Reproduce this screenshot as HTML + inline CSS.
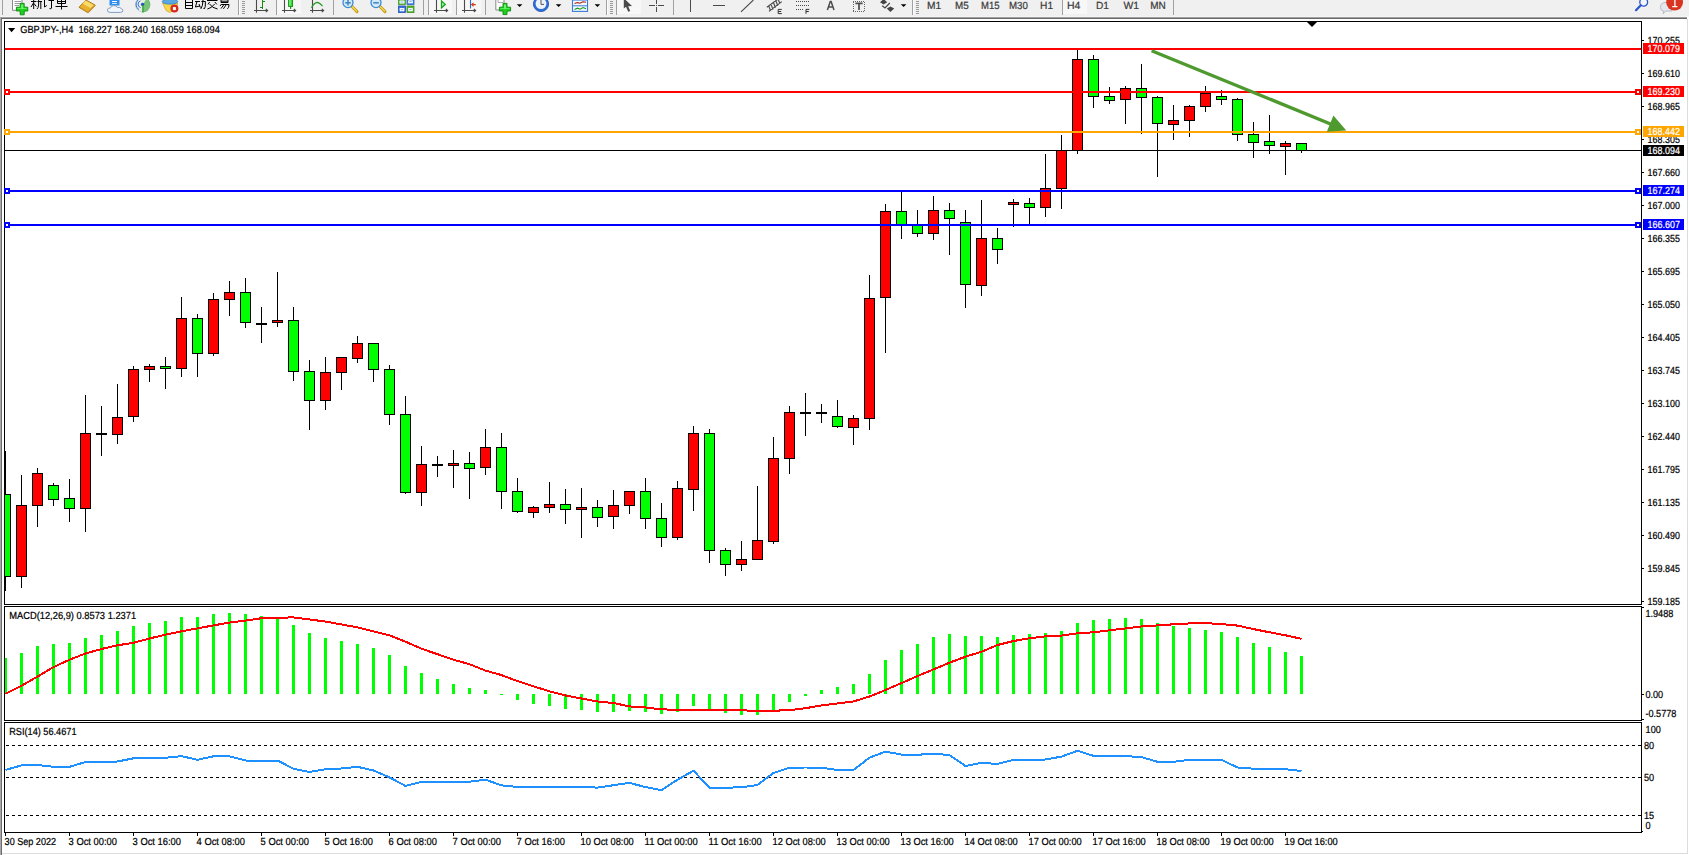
<!DOCTYPE html>
<html><head><meta charset="utf-8"><title>GBPJPY H4</title>
<style>
html,body{margin:0;padding:0;background:#fff;}
body{width:1689px;height:855px;overflow:hidden;position:relative;font-family:"Liberation Sans",sans-serif;}
svg{position:absolute;left:0;top:0;display:block;}
text{font-family:"Liberation Sans",sans-serif;text-rendering:geometricPrecision;}
.ax{font-size:9.2px;fill:#000;}
.axw{font-size:9.2px;fill:#fff;}
.tb{font-size:10.2px;fill:#3a3a3a;}
</style></head><body>
<svg width="1689" height="855" viewBox="0 0 1689 855">
<rect x="0" y="0" width="1689" height="855" fill="#fff"/>
<g shape-rendering="crispEdges">
<rect x="0" y="0" width="1689" height="17" fill="#f0f0f0"/>
<rect x="0" y="16" width="1689" height="1" fill="#f5f5f5"/>
<rect x="0" y="17" width="1687" height="1" fill="#a0a0a0"/>
<rect x="0" y="18" width="1687" height="1" fill="#696969"/>
<rect x="0" y="17" width="1" height="838" fill="#a8a8a8"/>
<rect x="1" y="18" width="1" height="837" fill="#6c6c6c"/>
<rect x="1687" y="19" width="1" height="835" fill="#dcdcdc"/>
<rect x="2" y="853" width="1686" height="1" fill="#dcdcdc"/>
<rect x="4" y="21" width="1638" height="1" fill="#000"/>
<rect x="4" y="604" width="1638" height="1" fill="#000"/>
<rect x="4" y="21" width="1" height="584" fill="#000"/>
<rect x="1641" y="21" width="1" height="584" fill="#000"/>
<rect x="4" y="606" width="1638" height="1" fill="#000"/>
<rect x="4" y="720" width="1638" height="1" fill="#000"/>
<rect x="4" y="606" width="1" height="115" fill="#000"/>
<rect x="1641" y="606" width="1" height="115" fill="#000"/>
<rect x="4" y="722" width="1638" height="1" fill="#000"/>
<rect x="4" y="832" width="1638" height="1" fill="#000"/>
<rect x="4" y="722" width="1" height="111" fill="#000"/>
<rect x="1641" y="722" width="1" height="111" fill="#000"/>
</g>
<g shape-rendering="crispEdges">
<rect x="5" y="48" width="1636" height="2" fill="#ff0000"/>
<rect x="5" y="91" width="1636" height="2" fill="#ff0000"/>
<rect x="5" y="131" width="1636" height="2" fill="#ffa500"/>
<rect x="5" y="150" width="1636" height="1" fill="#000000"/>
<rect x="5" y="190" width="1636" height="2" fill="#0000ff"/>
<rect x="5" y="224" width="1636" height="2" fill="#0000ff"/>
<rect x="5" y="451" width="1" height="140" fill="#000"/>
<rect x="5" y="494" width="6" height="83" fill="#000"/>
<rect x="5" y="495" width="5" height="81" fill="#00ff00"/>
<rect x="21" y="475" width="1" height="113" fill="#000"/>
<rect x="16" y="505" width="11" height="72" fill="#000"/>
<rect x="17" y="506" width="9" height="70" fill="#ff0000"/>
<rect x="37" y="468" width="1" height="59" fill="#000"/>
<rect x="32" y="473" width="11" height="33" fill="#000"/>
<rect x="33" y="474" width="9" height="31" fill="#ff0000"/>
<rect x="53" y="483" width="1" height="23" fill="#000"/>
<rect x="48" y="485" width="11" height="15" fill="#000"/>
<rect x="49" y="486" width="9" height="13" fill="#00ff00"/>
<rect x="69" y="479" width="1" height="43" fill="#000"/>
<rect x="64" y="498" width="11" height="11" fill="#000"/>
<rect x="65" y="499" width="9" height="9" fill="#00ff00"/>
<rect x="85" y="395" width="1" height="137" fill="#000"/>
<rect x="80" y="433" width="11" height="76" fill="#000"/>
<rect x="81" y="434" width="9" height="74" fill="#ff0000"/>
<rect x="101" y="406" width="1" height="50" fill="#000"/>
<rect x="96" y="433" width="11" height="2" fill="#000"/>
<rect x="117" y="384" width="1" height="60" fill="#000"/>
<rect x="112" y="417" width="11" height="18" fill="#000"/>
<rect x="113" y="418" width="9" height="16" fill="#ff0000"/>
<rect x="133" y="366" width="1" height="56" fill="#000"/>
<rect x="128" y="369" width="11" height="48" fill="#000"/>
<rect x="129" y="370" width="9" height="46" fill="#ff0000"/>
<rect x="149" y="364" width="1" height="18" fill="#000"/>
<rect x="144" y="366" width="11" height="4" fill="#000"/>
<rect x="145" y="367" width="9" height="2" fill="#ff0000"/>
<rect x="165" y="357" width="1" height="32" fill="#000"/>
<rect x="160" y="366" width="11" height="3" fill="#000"/>
<rect x="161" y="367" width="9" height="1" fill="#00ff00"/>
<rect x="181" y="297" width="1" height="80" fill="#000"/>
<rect x="176" y="318" width="11" height="51" fill="#000"/>
<rect x="177" y="319" width="9" height="49" fill="#ff0000"/>
<rect x="197" y="314" width="1" height="63" fill="#000"/>
<rect x="192" y="318" width="11" height="36" fill="#000"/>
<rect x="193" y="319" width="9" height="34" fill="#00ff00"/>
<rect x="213" y="293" width="1" height="63" fill="#000"/>
<rect x="208" y="299" width="11" height="55" fill="#000"/>
<rect x="209" y="300" width="9" height="53" fill="#ff0000"/>
<rect x="229" y="281" width="1" height="35" fill="#000"/>
<rect x="224" y="292" width="11" height="8" fill="#000"/>
<rect x="225" y="293" width="9" height="6" fill="#ff0000"/>
<rect x="245" y="278" width="1" height="50" fill="#000"/>
<rect x="240" y="292" width="11" height="31" fill="#000"/>
<rect x="241" y="293" width="9" height="29" fill="#00ff00"/>
<rect x="261" y="307" width="1" height="36" fill="#000"/>
<rect x="256" y="323" width="11" height="2" fill="#000"/>
<rect x="277" y="272" width="1" height="55" fill="#000"/>
<rect x="272" y="320" width="11" height="3" fill="#000"/>
<rect x="273" y="321" width="9" height="1" fill="#ff0000"/>
<rect x="293" y="307" width="1" height="74" fill="#000"/>
<rect x="288" y="320" width="11" height="52" fill="#000"/>
<rect x="289" y="321" width="9" height="50" fill="#00ff00"/>
<rect x="309" y="360" width="1" height="70" fill="#000"/>
<rect x="304" y="371" width="11" height="30" fill="#000"/>
<rect x="305" y="372" width="9" height="28" fill="#00ff00"/>
<rect x="325" y="357" width="1" height="53" fill="#000"/>
<rect x="320" y="372" width="11" height="29" fill="#000"/>
<rect x="321" y="373" width="9" height="27" fill="#ff0000"/>
<rect x="341" y="357" width="1" height="33" fill="#000"/>
<rect x="336" y="357" width="11" height="16" fill="#000"/>
<rect x="337" y="358" width="9" height="14" fill="#ff0000"/>
<rect x="357" y="336" width="1" height="27" fill="#000"/>
<rect x="352" y="343" width="11" height="16" fill="#000"/>
<rect x="353" y="344" width="9" height="14" fill="#ff0000"/>
<rect x="373" y="343" width="1" height="39" fill="#000"/>
<rect x="368" y="343" width="11" height="27" fill="#000"/>
<rect x="369" y="344" width="9" height="25" fill="#00ff00"/>
<rect x="389" y="365" width="1" height="60" fill="#000"/>
<rect x="384" y="369" width="11" height="46" fill="#000"/>
<rect x="385" y="370" width="9" height="44" fill="#00ff00"/>
<rect x="405" y="396" width="1" height="98" fill="#000"/>
<rect x="400" y="414" width="11" height="79" fill="#000"/>
<rect x="401" y="415" width="9" height="77" fill="#00ff00"/>
<rect x="421" y="446" width="1" height="60" fill="#000"/>
<rect x="416" y="464" width="11" height="29" fill="#000"/>
<rect x="417" y="465" width="9" height="27" fill="#ff0000"/>
<rect x="437" y="456" width="1" height="21" fill="#000"/>
<rect x="432" y="464" width="11" height="2" fill="#000"/>
<rect x="453" y="450" width="1" height="38" fill="#000"/>
<rect x="448" y="463" width="11" height="3" fill="#000"/>
<rect x="449" y="464" width="9" height="1" fill="#ff0000"/>
<rect x="469" y="452" width="1" height="47" fill="#000"/>
<rect x="464" y="463" width="11" height="6" fill="#000"/>
<rect x="465" y="464" width="9" height="4" fill="#00ff00"/>
<rect x="485" y="429" width="1" height="46" fill="#000"/>
<rect x="480" y="447" width="11" height="21" fill="#000"/>
<rect x="481" y="448" width="9" height="19" fill="#ff0000"/>
<rect x="501" y="433" width="1" height="76" fill="#000"/>
<rect x="496" y="447" width="11" height="45" fill="#000"/>
<rect x="497" y="448" width="9" height="43" fill="#00ff00"/>
<rect x="517" y="478" width="1" height="35" fill="#000"/>
<rect x="512" y="491" width="11" height="21" fill="#000"/>
<rect x="513" y="492" width="9" height="19" fill="#00ff00"/>
<rect x="533" y="506" width="1" height="12" fill="#000"/>
<rect x="528" y="507" width="11" height="6" fill="#000"/>
<rect x="529" y="508" width="9" height="4" fill="#ff0000"/>
<rect x="549" y="482" width="1" height="31" fill="#000"/>
<rect x="544" y="504" width="11" height="4" fill="#000"/>
<rect x="545" y="505" width="9" height="2" fill="#ff0000"/>
<rect x="565" y="489" width="1" height="35" fill="#000"/>
<rect x="560" y="504" width="11" height="6" fill="#000"/>
<rect x="561" y="505" width="9" height="4" fill="#00ff00"/>
<rect x="581" y="488" width="1" height="50" fill="#000"/>
<rect x="576" y="507" width="11" height="3" fill="#000"/>
<rect x="577" y="508" width="9" height="1" fill="#ff0000"/>
<rect x="597" y="500" width="1" height="27" fill="#000"/>
<rect x="592" y="507" width="11" height="11" fill="#000"/>
<rect x="593" y="508" width="9" height="9" fill="#00ff00"/>
<rect x="613" y="490" width="1" height="39" fill="#000"/>
<rect x="608" y="505" width="11" height="12" fill="#000"/>
<rect x="609" y="506" width="9" height="10" fill="#ff0000"/>
<rect x="629" y="491" width="1" height="23" fill="#000"/>
<rect x="624" y="491" width="11" height="15" fill="#000"/>
<rect x="625" y="492" width="9" height="13" fill="#ff0000"/>
<rect x="645" y="478" width="1" height="51" fill="#000"/>
<rect x="640" y="491" width="11" height="28" fill="#000"/>
<rect x="641" y="492" width="9" height="26" fill="#00ff00"/>
<rect x="661" y="503" width="1" height="44" fill="#000"/>
<rect x="656" y="518" width="11" height="20" fill="#000"/>
<rect x="657" y="519" width="9" height="18" fill="#00ff00"/>
<rect x="677" y="481" width="1" height="59" fill="#000"/>
<rect x="672" y="488" width="11" height="50" fill="#000"/>
<rect x="673" y="489" width="9" height="48" fill="#ff0000"/>
<rect x="693" y="426" width="1" height="85" fill="#000"/>
<rect x="688" y="433" width="11" height="57" fill="#000"/>
<rect x="689" y="434" width="9" height="55" fill="#ff0000"/>
<rect x="709" y="429" width="1" height="134" fill="#000"/>
<rect x="704" y="433" width="11" height="118" fill="#000"/>
<rect x="705" y="434" width="9" height="116" fill="#00ff00"/>
<rect x="725" y="548" width="1" height="28" fill="#000"/>
<rect x="720" y="550" width="11" height="15" fill="#000"/>
<rect x="721" y="551" width="9" height="13" fill="#00ff00"/>
<rect x="741" y="541" width="1" height="30" fill="#000"/>
<rect x="736" y="559" width="11" height="6" fill="#000"/>
<rect x="737" y="560" width="9" height="4" fill="#ff0000"/>
<rect x="757" y="486" width="1" height="74" fill="#000"/>
<rect x="752" y="540" width="11" height="20" fill="#000"/>
<rect x="753" y="541" width="9" height="18" fill="#ff0000"/>
<rect x="773" y="437" width="1" height="107" fill="#000"/>
<rect x="768" y="458" width="11" height="84" fill="#000"/>
<rect x="769" y="459" width="9" height="82" fill="#ff0000"/>
<rect x="789" y="406" width="1" height="68" fill="#000"/>
<rect x="784" y="412" width="11" height="47" fill="#000"/>
<rect x="785" y="413" width="9" height="45" fill="#ff0000"/>
<rect x="805" y="393" width="1" height="43" fill="#000"/>
<rect x="800" y="412" width="11" height="2" fill="#000"/>
<rect x="821" y="404" width="1" height="19" fill="#000"/>
<rect x="816" y="412" width="11" height="2" fill="#000"/>
<rect x="837" y="400" width="1" height="28" fill="#000"/>
<rect x="832" y="416" width="11" height="11" fill="#000"/>
<rect x="833" y="417" width="9" height="9" fill="#00ff00"/>
<rect x="853" y="415" width="1" height="30" fill="#000"/>
<rect x="848" y="418" width="11" height="10" fill="#000"/>
<rect x="849" y="419" width="9" height="8" fill="#ff0000"/>
<rect x="869" y="275" width="1" height="155" fill="#000"/>
<rect x="864" y="298" width="11" height="121" fill="#000"/>
<rect x="865" y="299" width="9" height="119" fill="#ff0000"/>
<rect x="885" y="204" width="1" height="149" fill="#000"/>
<rect x="880" y="211" width="11" height="87" fill="#000"/>
<rect x="881" y="212" width="9" height="85" fill="#ff0000"/>
<rect x="901" y="192" width="1" height="47" fill="#000"/>
<rect x="896" y="211" width="11" height="14" fill="#000"/>
<rect x="897" y="212" width="9" height="12" fill="#00ff00"/>
<rect x="917" y="210" width="1" height="27" fill="#000"/>
<rect x="912" y="225" width="11" height="9" fill="#000"/>
<rect x="913" y="226" width="9" height="7" fill="#00ff00"/>
<rect x="933" y="196" width="1" height="44" fill="#000"/>
<rect x="928" y="210" width="11" height="24" fill="#000"/>
<rect x="929" y="211" width="9" height="22" fill="#ff0000"/>
<rect x="949" y="203" width="1" height="52" fill="#000"/>
<rect x="944" y="210" width="11" height="9" fill="#000"/>
<rect x="945" y="211" width="9" height="7" fill="#00ff00"/>
<rect x="965" y="210" width="1" height="98" fill="#000"/>
<rect x="960" y="222" width="11" height="63" fill="#000"/>
<rect x="961" y="223" width="9" height="61" fill="#00ff00"/>
<rect x="981" y="200" width="1" height="96" fill="#000"/>
<rect x="976" y="238" width="11" height="48" fill="#000"/>
<rect x="977" y="239" width="9" height="46" fill="#ff0000"/>
<rect x="997" y="228" width="1" height="36" fill="#000"/>
<rect x="992" y="238" width="11" height="12" fill="#000"/>
<rect x="993" y="239" width="9" height="10" fill="#00ff00"/>
<rect x="1013" y="199" width="1" height="28" fill="#000"/>
<rect x="1008" y="202" width="11" height="3" fill="#000"/>
<rect x="1009" y="203" width="9" height="1" fill="#ff0000"/>
<rect x="1029" y="198" width="1" height="26" fill="#000"/>
<rect x="1024" y="203" width="11" height="5" fill="#000"/>
<rect x="1025" y="204" width="9" height="3" fill="#00ff00"/>
<rect x="1045" y="154" width="1" height="63" fill="#000"/>
<rect x="1040" y="188" width="11" height="20" fill="#000"/>
<rect x="1041" y="189" width="9" height="18" fill="#ff0000"/>
<rect x="1061" y="135" width="1" height="74" fill="#000"/>
<rect x="1056" y="150" width="11" height="39" fill="#000"/>
<rect x="1057" y="151" width="9" height="37" fill="#ff0000"/>
<rect x="1077" y="50" width="1" height="104" fill="#000"/>
<rect x="1072" y="59" width="11" height="92" fill="#000"/>
<rect x="1073" y="60" width="9" height="90" fill="#ff0000"/>
<rect x="1093" y="55" width="1" height="53" fill="#000"/>
<rect x="1088" y="59" width="11" height="38" fill="#000"/>
<rect x="1089" y="60" width="9" height="36" fill="#00ff00"/>
<rect x="1109" y="87" width="1" height="17" fill="#000"/>
<rect x="1104" y="96" width="11" height="5" fill="#000"/>
<rect x="1105" y="97" width="9" height="3" fill="#00ff00"/>
<rect x="1125" y="86" width="1" height="38" fill="#000"/>
<rect x="1120" y="88" width="11" height="12" fill="#000"/>
<rect x="1121" y="89" width="9" height="10" fill="#ff0000"/>
<rect x="1141" y="64" width="1" height="70" fill="#000"/>
<rect x="1136" y="88" width="11" height="10" fill="#000"/>
<rect x="1137" y="89" width="9" height="8" fill="#00ff00"/>
<rect x="1157" y="96" width="1" height="81" fill="#000"/>
<rect x="1152" y="97" width="11" height="27" fill="#000"/>
<rect x="1153" y="98" width="9" height="25" fill="#00ff00"/>
<rect x="1173" y="105" width="1" height="35" fill="#000"/>
<rect x="1168" y="120" width="11" height="5" fill="#000"/>
<rect x="1169" y="121" width="9" height="3" fill="#ff0000"/>
<rect x="1189" y="105" width="1" height="32" fill="#000"/>
<rect x="1184" y="106" width="11" height="15" fill="#000"/>
<rect x="1185" y="107" width="9" height="13" fill="#ff0000"/>
<rect x="1205" y="86" width="1" height="26" fill="#000"/>
<rect x="1200" y="93" width="11" height="14" fill="#000"/>
<rect x="1201" y="94" width="9" height="12" fill="#ff0000"/>
<rect x="1221" y="90" width="1" height="15" fill="#000"/>
<rect x="1216" y="96" width="11" height="4" fill="#000"/>
<rect x="1217" y="97" width="9" height="2" fill="#00ff00"/>
<rect x="1237" y="98" width="1" height="43" fill="#000"/>
<rect x="1232" y="99" width="11" height="36" fill="#000"/>
<rect x="1233" y="100" width="9" height="34" fill="#00ff00"/>
<rect x="1253" y="122" width="1" height="36" fill="#000"/>
<rect x="1248" y="134" width="11" height="9" fill="#000"/>
<rect x="1249" y="135" width="9" height="7" fill="#00ff00"/>
<rect x="1269" y="115" width="1" height="39" fill="#000"/>
<rect x="1264" y="141" width="11" height="5" fill="#000"/>
<rect x="1265" y="142" width="9" height="3" fill="#00ff00"/>
<rect x="1285" y="141" width="1" height="34" fill="#000"/>
<rect x="1280" y="143" width="11" height="4" fill="#000"/>
<rect x="1281" y="144" width="9" height="2" fill="#ff0000"/>
<rect x="1301" y="143" width="1" height="10" fill="#000"/>
<rect x="1296" y="143" width="11" height="8" fill="#000"/>
<rect x="1297" y="144" width="9" height="6" fill="#00ff00"/>
</g>
<g shape-rendering="crispEdges">
<rect x="5" y="48" width="1636" height="2" fill="#ff0000"/>
<rect x="5" y="91" width="1636" height="2" fill="#ff0000"/>
<rect x="5" y="131" width="1636" height="2" fill="#ffa500"/>
<rect x="5" y="150" width="1636" height="1" fill="#000000"/>
<rect x="5" y="190" width="1636" height="2" fill="#0000ff"/>
<rect x="5" y="224" width="1636" height="2" fill="#0000ff"/>
<rect x="4" y="89" width="6" height="6" fill="#ff0000"/>
<rect x="6" y="91" width="2" height="2" fill="#fff"/>
<rect x="1635" y="89" width="6" height="6" fill="#ff0000"/>
<rect x="1637" y="91" width="2" height="2" fill="#fff"/>
<rect x="4" y="129" width="6" height="6" fill="#ffa500"/>
<rect x="6" y="131" width="2" height="2" fill="#fff"/>
<rect x="1635" y="129" width="6" height="6" fill="#ffa500"/>
<rect x="1637" y="131" width="2" height="2" fill="#fff"/>
<rect x="4" y="188" width="6" height="6" fill="#0000ff"/>
<rect x="6" y="190" width="2" height="2" fill="#fff"/>
<rect x="1635" y="188" width="6" height="6" fill="#0000ff"/>
<rect x="1637" y="190" width="2" height="2" fill="#fff"/>
<rect x="4" y="222" width="6" height="6" fill="#0000ff"/>
<rect x="6" y="224" width="2" height="2" fill="#fff"/>
<rect x="1635" y="222" width="6" height="6" fill="#0000ff"/>
<rect x="1637" y="224" width="2" height="2" fill="#fff"/>
</g>
<line x1="1151.6" y1="50.7" x2="1336" y2="126.2" stroke="#4e9a2e" stroke-width="3.4"/>
<polygon points="1346.3,130.6 1326.8,131.8 1333.4,115.5" fill="#4e9a2e"/>
<polygon points="1307,22 1317,22 1312,27" fill="#000"/>
<polygon points="8,28 15.2,28 11.6,32.2" fill="#000"/>
<text transform="translate(20.20,32.70) scale(0.9073,1)" font-size="10.2" fill="#000" stroke="#000" stroke-width="0.22">GBPJPY-,H4&#160;&#160;168.227 168.240 168.059 168.094</text>
<g shape-rendering="crispEdges">
<rect x="1642" y="40" width="2" height="1" fill="#000"/>
<rect x="1642" y="73" width="2" height="1" fill="#000"/>
<rect x="1642" y="106" width="2" height="1" fill="#000"/>
<rect x="1642" y="139" width="2" height="1" fill="#000"/>
<rect x="1642" y="172" width="2" height="1" fill="#000"/>
<rect x="1642" y="205" width="2" height="1" fill="#000"/>
<rect x="1642" y="238" width="2" height="1" fill="#000"/>
<rect x="1642" y="271" width="2" height="1" fill="#000"/>
<rect x="1642" y="304" width="2" height="1" fill="#000"/>
<rect x="1642" y="337" width="2" height="1" fill="#000"/>
<rect x="1642" y="370" width="2" height="1" fill="#000"/>
<rect x="1642" y="403" width="2" height="1" fill="#000"/>
<rect x="1642" y="436" width="2" height="1" fill="#000"/>
<rect x="1642" y="469" width="2" height="1" fill="#000"/>
<rect x="1642" y="502" width="2" height="1" fill="#000"/>
<rect x="1642" y="535" width="2" height="1" fill="#000"/>
<rect x="1642" y="568" width="2" height="1" fill="#000"/>
<rect x="1642" y="601" width="2" height="1" fill="#000"/>
</g>
<text transform="translate(1647.60,43.90) scale(0.8761,1)" font-size="10.2" fill="#000" stroke="#000" stroke-width="0.22">170.255</text>
<text transform="translate(1647.60,76.93) scale(0.8761,1)" font-size="10.2" fill="#000" stroke="#000" stroke-width="0.22">169.610</text>
<text transform="translate(1647.60,109.96) scale(0.8761,1)" font-size="10.2" fill="#000" stroke="#000" stroke-width="0.22">168.965</text>
<text transform="translate(1647.60,142.99) scale(0.8761,1)" font-size="10.2" fill="#000" stroke="#000" stroke-width="0.22">168.305</text>
<text transform="translate(1647.60,176.02) scale(0.8761,1)" font-size="10.2" fill="#000" stroke="#000" stroke-width="0.22">167.660</text>
<text transform="translate(1647.60,209.05) scale(0.8761,1)" font-size="10.2" fill="#000" stroke="#000" stroke-width="0.22">167.000</text>
<text transform="translate(1647.60,242.08) scale(0.8761,1)" font-size="10.2" fill="#000" stroke="#000" stroke-width="0.22">166.355</text>
<text transform="translate(1647.60,275.11) scale(0.8761,1)" font-size="10.2" fill="#000" stroke="#000" stroke-width="0.22">165.695</text>
<text transform="translate(1647.60,308.14) scale(0.8761,1)" font-size="10.2" fill="#000" stroke="#000" stroke-width="0.22">165.050</text>
<text transform="translate(1647.60,341.17) scale(0.8761,1)" font-size="10.2" fill="#000" stroke="#000" stroke-width="0.22">164.405</text>
<text transform="translate(1647.60,374.20) scale(0.8761,1)" font-size="10.2" fill="#000" stroke="#000" stroke-width="0.22">163.745</text>
<text transform="translate(1647.60,407.23) scale(0.8761,1)" font-size="10.2" fill="#000" stroke="#000" stroke-width="0.22">163.100</text>
<text transform="translate(1647.60,440.26) scale(0.8761,1)" font-size="10.2" fill="#000" stroke="#000" stroke-width="0.22">162.440</text>
<text transform="translate(1647.60,473.29) scale(0.8761,1)" font-size="10.2" fill="#000" stroke="#000" stroke-width="0.22">161.795</text>
<text transform="translate(1647.60,506.32) scale(0.8761,1)" font-size="10.2" fill="#000" stroke="#000" stroke-width="0.22">161.135</text>
<text transform="translate(1647.60,539.35) scale(0.8761,1)" font-size="10.2" fill="#000" stroke="#000" stroke-width="0.22">160.490</text>
<text transform="translate(1647.60,572.38) scale(0.8761,1)" font-size="10.2" fill="#000" stroke="#000" stroke-width="0.22">159.845</text>
<text transform="translate(1647.60,605.41) scale(0.8761,1)" font-size="10.2" fill="#000" stroke="#000" stroke-width="0.22">159.185</text>
<rect x="1643" y="43" width="41" height="11" fill="#ff0000" shape-rendering="crispEdges"/>
<text transform="translate(1647.60,52.10) scale(0.8761,1)" font-size="10.2" fill="#fff" stroke="#fff" stroke-width="0.22">170.079</text>
<rect x="1643" y="86" width="41" height="11" fill="#ff0000" shape-rendering="crispEdges"/>
<text transform="translate(1647.60,95.10) scale(0.8761,1)" font-size="10.2" fill="#fff" stroke="#fff" stroke-width="0.22">169.230</text>
<rect x="1643" y="126" width="41" height="11" fill="#ffa500" shape-rendering="crispEdges"/>
<text transform="translate(1647.60,135.10) scale(0.8761,1)" font-size="10.2" fill="#fff" stroke="#fff" stroke-width="0.22">168.442</text>
<rect x="1643" y="145" width="41" height="11" fill="#000000" shape-rendering="crispEdges"/>
<text transform="translate(1647.60,154.10) scale(0.8761,1)" font-size="10.2" fill="#fff" stroke="#fff" stroke-width="0.22">168.094</text>
<rect x="1643" y="185" width="41" height="11" fill="#0000ff" shape-rendering="crispEdges"/>
<text transform="translate(1647.60,194.10) scale(0.8761,1)" font-size="10.2" fill="#fff" stroke="#fff" stroke-width="0.22">167.274</text>
<rect x="1643" y="219" width="41" height="11" fill="#0000ff" shape-rendering="crispEdges"/>
<text transform="translate(1647.60,228.10) scale(0.8761,1)" font-size="10.2" fill="#fff" stroke="#fff" stroke-width="0.22">166.607</text>
<g shape-rendering="crispEdges">
<rect x="5" y="658" width="2" height="36" fill="#00ff00"/>
<rect x="20" y="653" width="3" height="41" fill="#00ff00"/>
<rect x="36" y="646" width="3" height="48" fill="#00ff00"/>
<rect x="52" y="644" width="3" height="50" fill="#00ff00"/>
<rect x="68" y="643" width="3" height="51" fill="#00ff00"/>
<rect x="84" y="638" width="3" height="56" fill="#00ff00"/>
<rect x="100" y="635" width="3" height="59" fill="#00ff00"/>
<rect x="116" y="631" width="3" height="63" fill="#00ff00"/>
<rect x="132" y="626" width="3" height="68" fill="#00ff00"/>
<rect x="148" y="623" width="3" height="71" fill="#00ff00"/>
<rect x="164" y="621" width="3" height="73" fill="#00ff00"/>
<rect x="180" y="617" width="3" height="77" fill="#00ff00"/>
<rect x="196" y="617" width="3" height="77" fill="#00ff00"/>
<rect x="212" y="614" width="3" height="80" fill="#00ff00"/>
<rect x="228" y="613" width="3" height="81" fill="#00ff00"/>
<rect x="244" y="614" width="3" height="80" fill="#00ff00"/>
<rect x="260" y="616" width="3" height="78" fill="#00ff00"/>
<rect x="276" y="618" width="3" height="76" fill="#00ff00"/>
<rect x="292" y="625" width="3" height="69" fill="#00ff00"/>
<rect x="308" y="633" width="3" height="61" fill="#00ff00"/>
<rect x="324" y="638" width="3" height="56" fill="#00ff00"/>
<rect x="340" y="641" width="3" height="53" fill="#00ff00"/>
<rect x="356" y="644" width="3" height="50" fill="#00ff00"/>
<rect x="372" y="648" width="3" height="46" fill="#00ff00"/>
<rect x="388" y="655" width="3" height="39" fill="#00ff00"/>
<rect x="404" y="666" width="3" height="28" fill="#00ff00"/>
<rect x="420" y="673" width="3" height="21" fill="#00ff00"/>
<rect x="436" y="679" width="3" height="15" fill="#00ff00"/>
<rect x="452" y="684" width="3" height="10" fill="#00ff00"/>
<rect x="468" y="688" width="3" height="6" fill="#00ff00"/>
<rect x="484" y="690" width="3" height="4" fill="#00ff00"/>
<rect x="500" y="694" width="3" height="1" fill="#00ff00"/>
<rect x="516" y="694" width="3" height="6" fill="#00ff00"/>
<rect x="532" y="694" width="3" height="10" fill="#00ff00"/>
<rect x="548" y="694" width="3" height="12" fill="#00ff00"/>
<rect x="564" y="694" width="3" height="15" fill="#00ff00"/>
<rect x="580" y="694" width="3" height="16" fill="#00ff00"/>
<rect x="596" y="694" width="3" height="18" fill="#00ff00"/>
<rect x="612" y="694" width="3" height="18" fill="#00ff00"/>
<rect x="628" y="694" width="3" height="17" fill="#00ff00"/>
<rect x="644" y="694" width="3" height="18" fill="#00ff00"/>
<rect x="660" y="694" width="3" height="20" fill="#00ff00"/>
<rect x="676" y="694" width="3" height="18" fill="#00ff00"/>
<rect x="692" y="694" width="3" height="12" fill="#00ff00"/>
<rect x="708" y="694" width="3" height="16" fill="#00ff00"/>
<rect x="724" y="694" width="3" height="19" fill="#00ff00"/>
<rect x="740" y="694" width="3" height="21" fill="#00ff00"/>
<rect x="756" y="694" width="3" height="21" fill="#00ff00"/>
<rect x="772" y="694" width="3" height="17" fill="#00ff00"/>
<rect x="788" y="694" width="3" height="8" fill="#00ff00"/>
<rect x="804" y="694" width="3" height="2" fill="#00ff00"/>
<rect x="820" y="690" width="3" height="4" fill="#00ff00"/>
<rect x="836" y="687" width="3" height="7" fill="#00ff00"/>
<rect x="852" y="684" width="3" height="10" fill="#00ff00"/>
<rect x="868" y="674" width="3" height="20" fill="#00ff00"/>
<rect x="884" y="660" width="3" height="34" fill="#00ff00"/>
<rect x="900" y="650" width="3" height="44" fill="#00ff00"/>
<rect x="916" y="644" width="3" height="50" fill="#00ff00"/>
<rect x="932" y="637" width="3" height="57" fill="#00ff00"/>
<rect x="948" y="634" width="3" height="60" fill="#00ff00"/>
<rect x="964" y="636" width="3" height="58" fill="#00ff00"/>
<rect x="980" y="636" width="3" height="58" fill="#00ff00"/>
<rect x="996" y="637" width="3" height="57" fill="#00ff00"/>
<rect x="1012" y="635" width="3" height="59" fill="#00ff00"/>
<rect x="1028" y="634" width="3" height="60" fill="#00ff00"/>
<rect x="1044" y="633" width="3" height="61" fill="#00ff00"/>
<rect x="1060" y="631" width="3" height="63" fill="#00ff00"/>
<rect x="1076" y="623" width="3" height="71" fill="#00ff00"/>
<rect x="1092" y="620" width="3" height="74" fill="#00ff00"/>
<rect x="1108" y="619" width="3" height="75" fill="#00ff00"/>
<rect x="1124" y="618" width="3" height="76" fill="#00ff00"/>
<rect x="1140" y="619" width="3" height="75" fill="#00ff00"/>
<rect x="1156" y="623" width="3" height="71" fill="#00ff00"/>
<rect x="1172" y="626" width="3" height="68" fill="#00ff00"/>
<rect x="1188" y="628" width="3" height="66" fill="#00ff00"/>
<rect x="1204" y="630" width="3" height="64" fill="#00ff00"/>
<rect x="1220" y="632" width="3" height="62" fill="#00ff00"/>
<rect x="1236" y="637" width="3" height="57" fill="#00ff00"/>
<rect x="1252" y="643" width="3" height="51" fill="#00ff00"/>
<rect x="1268" y="647" width="3" height="47" fill="#00ff00"/>
<rect x="1284" y="652" width="3" height="42" fill="#00ff00"/>
<rect x="1300" y="656" width="3" height="38" fill="#00ff00"/>
<rect x="1642" y="607" width="2" height="1" fill="#000"/>
<rect x="1642" y="694" width="2" height="1" fill="#000"/>
<rect x="1642" y="719" width="2" height="1" fill="#000"/>
</g>
<polyline points="5.5,693.8 21.5,685.8 37.5,676.6 53.5,667.1 69.5,659.7 85.5,653.5 101.5,649.0 117.5,645.3 133.5,642.8 149.5,638.5 165.5,634.6 181.5,631.3 197.5,628.4 213.5,625.4 229.5,622.6 245.5,620.6 261.5,618.2 277.5,617.7 293.5,617.4 309.5,619.4 325.5,621.6 341.5,624.4 357.5,627.4 373.5,631.3 389.5,635.3 405.5,641.7 421.5,648.7 437.5,654.2 453.5,659.7 469.5,664.2 485.5,670.6 501.5,675.1 517.5,681.1 533.5,686.3 549.5,691.3 565.5,695.5 581.5,698.5 597.5,701.5 613.5,703.0 629.5,706.4 645.5,707.4 661.5,709.4 677.5,709.7 693.5,709.7 709.5,709.7 725.5,709.9 741.5,710.4 757.5,710.7 773.5,710.7 789.5,710.2 805.5,708.2 821.5,705.4 837.5,703.5 853.5,701.5 869.5,696.5 885.5,690.0 901.5,683.1 917.5,676.1 933.5,669.4 949.5,662.7 965.5,656.7 981.5,651.7 997.5,645.0 1013.5,641.0 1029.5,638.3 1045.5,636.3 1061.5,635.6 1077.5,633.3 1093.5,632.3 1109.5,630.3 1125.5,628.4 1141.5,626.4 1157.5,625.4 1173.5,624.3 1189.5,623.4 1205.5,623.1 1221.5,624.1 1237.5,625.6 1253.5,629.1 1269.5,632.3 1285.5,635.3 1301.5,638.8" fill="none" stroke="#ff0000" stroke-width="2" stroke-linejoin="round" shape-rendering="crispEdges"/>
<text transform="translate(9.20,618.70) scale(0.9150,1)" font-size="10.2" fill="#000" stroke="#000" stroke-width="0.22">MACD(12,26,9) 0.8573 1.2371</text>
<text transform="translate(1645.40,616.80) scale(0.8971,1)" font-size="10.2" fill="#000" stroke="#000" stroke-width="0.22">1.9488</text>
<text transform="translate(1645.40,698.20) scale(0.8971,1)" font-size="10.2" fill="#000" stroke="#000" stroke-width="0.22">0.00</text>
<text transform="translate(1645.40,717.00) scale(0.8971,1)" font-size="10.2" fill="#000" stroke="#000" stroke-width="0.22">-0.5778</text>
<line x1="6" y1="745.5" x2="1641" y2="745.5" stroke="#000" stroke-width="1" stroke-dasharray="3,3" shape-rendering="crispEdges"/>
<line x1="6" y1="777.5" x2="1641" y2="777.5" stroke="#000" stroke-width="1" stroke-dasharray="3,3" shape-rendering="crispEdges"/>
<line x1="6" y1="815.5" x2="1641" y2="815.5" stroke="#000" stroke-width="1" stroke-dasharray="3,3" shape-rendering="crispEdges"/>
<polyline points="5.5,770.0 21.5,765.3 37.5,765.0 53.5,766.8 69.5,766.8 85.5,762.0 101.5,761.8 117.5,761.5 133.5,758.3 149.5,758.0 165.5,757.8 181.5,756.1 197.5,759.8 213.5,756.3 229.5,756.3 245.5,760.5 261.5,760.5 277.5,760.5 293.5,768.7 309.5,772.0 325.5,769.2 341.5,768.5 357.5,766.8 373.5,770.5 389.5,777.4 405.5,785.9 421.5,781.9 437.5,781.7 453.5,781.7 469.5,781.7 485.5,779.7 501.5,785.4 517.5,786.9 533.5,786.9 549.5,786.9 565.5,786.9 581.5,786.9 597.5,787.6 613.5,785.2 629.5,782.9 645.5,787.1 661.5,790.1 677.5,779.7 693.5,770.7 709.5,787.6 725.5,787.6 741.5,787.4 757.5,784.9 773.5,773.0 789.5,767.7 805.5,767.5 821.5,767.7 837.5,770.0 853.5,770.0 869.5,757.6 885.5,751.6 901.5,754.6 917.5,754.8 933.5,753.6 949.5,755.1 965.5,766.0 981.5,762.8 997.5,764.0 1013.5,759.8 1029.5,759.8 1045.5,759.5 1061.5,756.6 1077.5,750.8 1093.5,755.8 1109.5,755.8 1125.5,756.1 1141.5,757.1 1157.5,761.8 1173.5,761.8 1189.5,759.8 1205.5,759.8 1221.5,759.8 1237.5,767.5 1253.5,768.7 1269.5,768.7 1285.5,769.2 1301.5,771.0" fill="none" stroke="#1e90ff" stroke-width="2" stroke-linejoin="round" shape-rendering="crispEdges"/>
<text transform="translate(9.20,734.70) scale(0.9006,1)" font-size="10.2" fill="#000" stroke="#000" stroke-width="0.22">RSI(14) 56.4671</text>
<text transform="translate(1645.60,733.00) scale(0.8971,1)" font-size="10.2" fill="#000" stroke="#000" stroke-width="0.22">100</text>
<text transform="translate(1644.00,748.60) scale(0.8971,1)" font-size="10.2" fill="#000" stroke="#000" stroke-width="0.22">80</text>
<text transform="translate(1644.00,780.80) scale(0.8971,1)" font-size="10.2" fill="#000" stroke="#000" stroke-width="0.22">50</text>
<text transform="translate(1644.00,818.60) scale(0.8971,1)" font-size="10.2" fill="#000" stroke="#000" stroke-width="0.22">15</text>
<text transform="translate(1645.60,829.20) scale(0.8971,1)" font-size="10.2" fill="#000" stroke="#000" stroke-width="0.22">0</text>
<rect x="1642" y="831" width="1" height="1" fill="#000" shape-rendering="crispEdges"/>
<g shape-rendering="crispEdges">
<rect x="5" y="833" width="1" height="3" fill="#000"/>
<rect x="69" y="833" width="1" height="3" fill="#000"/>
<rect x="133" y="833" width="1" height="3" fill="#000"/>
<rect x="197" y="833" width="1" height="3" fill="#000"/>
<rect x="261" y="833" width="1" height="3" fill="#000"/>
<rect x="325" y="833" width="1" height="3" fill="#000"/>
<rect x="389" y="833" width="1" height="3" fill="#000"/>
<rect x="453" y="833" width="1" height="3" fill="#000"/>
<rect x="517" y="833" width="1" height="3" fill="#000"/>
<rect x="581" y="833" width="1" height="3" fill="#000"/>
<rect x="645" y="833" width="1" height="3" fill="#000"/>
<rect x="709" y="833" width="1" height="3" fill="#000"/>
<rect x="773" y="833" width="1" height="3" fill="#000"/>
<rect x="837" y="833" width="1" height="3" fill="#000"/>
<rect x="901" y="833" width="1" height="3" fill="#000"/>
<rect x="965" y="833" width="1" height="3" fill="#000"/>
<rect x="1029" y="833" width="1" height="3" fill="#000"/>
<rect x="1093" y="833" width="1" height="3" fill="#000"/>
<rect x="1157" y="833" width="1" height="3" fill="#000"/>
<rect x="1221" y="833" width="1" height="3" fill="#000"/>
<rect x="1285" y="833" width="1" height="3" fill="#000"/>
</g>
<text transform="translate(4.60,845.20) scale(0.8903,1)" font-size="10.2" fill="#000" stroke="#000" stroke-width="0.22">30 Sep 2022</text>
<text transform="translate(68.60,845.20) scale(0.9179,1)" font-size="10.2" fill="#000" stroke="#000" stroke-width="0.22">3 Oct 00:00</text>
<text transform="translate(132.60,845.20) scale(0.9179,1)" font-size="10.2" fill="#000" stroke="#000" stroke-width="0.22">3 Oct 16:00</text>
<text transform="translate(196.60,845.20) scale(0.9179,1)" font-size="10.2" fill="#000" stroke="#000" stroke-width="0.22">4 Oct 08:00</text>
<text transform="translate(260.60,845.20) scale(0.9179,1)" font-size="10.2" fill="#000" stroke="#000" stroke-width="0.22">5 Oct 00:00</text>
<text transform="translate(324.60,845.20) scale(0.9179,1)" font-size="10.2" fill="#000" stroke="#000" stroke-width="0.22">5 Oct 16:00</text>
<text transform="translate(388.60,845.20) scale(0.9179,1)" font-size="10.2" fill="#000" stroke="#000" stroke-width="0.22">6 Oct 08:00</text>
<text transform="translate(452.60,845.20) scale(0.9179,1)" font-size="10.2" fill="#000" stroke="#000" stroke-width="0.22">7 Oct 00:00</text>
<text transform="translate(516.60,845.20) scale(0.9179,1)" font-size="10.2" fill="#000" stroke="#000" stroke-width="0.22">7 Oct 16:00</text>
<text transform="translate(580.60,845.20) scale(0.9109,1)" font-size="10.2" fill="#000" stroke="#000" stroke-width="0.22">10 Oct 08:00</text>
<text transform="translate(644.60,845.20) scale(0.9229,1)" font-size="10.2" fill="#000" stroke="#000" stroke-width="0.22">11 Oct 00:00</text>
<text transform="translate(708.60,845.20) scale(0.9229,1)" font-size="10.2" fill="#000" stroke="#000" stroke-width="0.22">11 Oct 16:00</text>
<text transform="translate(772.60,845.20) scale(0.9109,1)" font-size="10.2" fill="#000" stroke="#000" stroke-width="0.22">12 Oct 08:00</text>
<text transform="translate(836.60,845.20) scale(0.9109,1)" font-size="10.2" fill="#000" stroke="#000" stroke-width="0.22">13 Oct 00:00</text>
<text transform="translate(900.60,845.20) scale(0.9109,1)" font-size="10.2" fill="#000" stroke="#000" stroke-width="0.22">13 Oct 16:00</text>
<text transform="translate(964.60,845.20) scale(0.9109,1)" font-size="10.2" fill="#000" stroke="#000" stroke-width="0.22">14 Oct 08:00</text>
<text transform="translate(1028.60,845.20) scale(0.9109,1)" font-size="10.2" fill="#000" stroke="#000" stroke-width="0.22">17 Oct 00:00</text>
<text transform="translate(1092.60,845.20) scale(0.9109,1)" font-size="10.2" fill="#000" stroke="#000" stroke-width="0.22">17 Oct 16:00</text>
<text transform="translate(1156.60,845.20) scale(0.9109,1)" font-size="10.2" fill="#000" stroke="#000" stroke-width="0.22">18 Oct 08:00</text>
<text transform="translate(1220.60,845.20) scale(0.9109,1)" font-size="10.2" fill="#000" stroke="#000" stroke-width="0.22">19 Oct 00:00</text>
<text transform="translate(1284.60,845.20) scale(0.9109,1)" font-size="10.2" fill="#000" stroke="#000" stroke-width="0.22">19 Oct 16:00</text>
<g id="toolbar">
<g shape-rendering="crispEdges">
<rect x="2" y="0" width="1" height="15" fill="#a0a0a0"/>
<rect x="238" y="0" width="1" height="15" fill="#a0a0a0"/>
<rect x="276" y="0" width="1" height="15" fill="#a0a0a0"/>
<rect x="333" y="0" width="1" height="15" fill="#a0a0a0"/>
<rect x="423" y="0" width="1" height="15" fill="#a0a0a0"/>
<rect x="428" y="0" width="1" height="15" fill="#a0a0a0"/>
<rect x="456" y="0" width="1" height="15" fill="#a0a0a0"/>
<rect x="485" y="0" width="1" height="15" fill="#a0a0a0"/>
<rect x="606" y="0" width="1" height="15" fill="#a0a0a0"/>
<rect x="616" y="0" width="1" height="15" fill="#a0a0a0"/>
<rect x="673" y="0" width="1" height="15" fill="#a0a0a0"/>
<rect x="912" y="0" width="1" height="15" fill="#a0a0a0"/>
<rect x="1062" y="0" width="1" height="15" fill="#a0a0a0"/>
<rect x="1173" y="0" width="1" height="15" fill="#a0a0a0"/>
<rect x="239" y="0" width="1" height="15" fill="#fcfcfc"/>
<rect x="607" y="0" width="1" height="15" fill="#fcfcfc"/>
<rect x="913" y="0" width="1" height="15" fill="#fcfcfc"/>
<rect x="242" y="1" width="3" height="1" fill="#9a9a9a"/>
<rect x="242" y="3" width="3" height="1" fill="#9a9a9a"/>
<rect x="242" y="5" width="3" height="1" fill="#9a9a9a"/>
<rect x="242" y="7" width="3" height="1" fill="#9a9a9a"/>
<rect x="242" y="9" width="3" height="1" fill="#9a9a9a"/>
<rect x="242" y="11" width="3" height="1" fill="#9a9a9a"/>
<rect x="242" y="13" width="3" height="1" fill="#9a9a9a"/>
<rect x="610" y="1" width="3" height="1" fill="#9a9a9a"/>
<rect x="610" y="3" width="3" height="1" fill="#9a9a9a"/>
<rect x="610" y="5" width="3" height="1" fill="#9a9a9a"/>
<rect x="610" y="7" width="3" height="1" fill="#9a9a9a"/>
<rect x="610" y="9" width="3" height="1" fill="#9a9a9a"/>
<rect x="610" y="11" width="3" height="1" fill="#9a9a9a"/>
<rect x="610" y="13" width="3" height="1" fill="#9a9a9a"/>
<rect x="916" y="1" width="3" height="1" fill="#9a9a9a"/>
<rect x="916" y="3" width="3" height="1" fill="#9a9a9a"/>
<rect x="916" y="5" width="3" height="1" fill="#9a9a9a"/>
<rect x="916" y="7" width="3" height="1" fill="#9a9a9a"/>
<rect x="916" y="9" width="3" height="1" fill="#9a9a9a"/>
<rect x="916" y="11" width="3" height="1" fill="#9a9a9a"/>
<rect x="916" y="13" width="3" height="1" fill="#9a9a9a"/>
<rect x="277" y="0" width="24" height="14" fill="#f7f7f7"/>
<rect x="429" y="0" width="23" height="14" fill="#f7f7f7"/>
<rect x="457" y="0" width="24" height="14" fill="#f7f7f7"/>
<rect x="617" y="0" width="24" height="14" fill="#f7f7f7"/>
<rect x="1063" y="0" width="24" height="14" fill="#f7f7f7"/>
</g>
<path d="M12.5 0 V10.3 H22 V0" fill="#fff" stroke="#8a8a8a" stroke-width="1"/>
<path d="M14.5 1.5 H21 M14.5 3.5 H21 M14.5 5.5 H19" stroke="#9a9a9a" stroke-width="1" fill="none"/>
<path d="M20.2 3.4 H24.2 V7.2 H27.8 V11 H24.2 V14.8 H20.2 V11 H16.4 V7.2 H20.2 Z" fill="#1fd01f" stroke="#0a8a0a" stroke-width="0.9"/>
<path d="M21.2 4.4 H23.2 V8.2 H26.6 V9 H17.4 V8.2 H21.2 Z" fill="#7dff7d" opacity="0.8"/>
<g stroke="#000" stroke-width="1" fill="none" stroke-linecap="butt">
<path d="M31 1.5 H36.5 M33.7 0 V9 M33.5 3 L31 7 M34 3.5 L36.3 6.5 M37.5 1.5 H42 M38.6 0 V5 Q38.4 8 37 9 M40.8 1.5 V9"/>
<path d="M44.5 0 V7 L46.8 5.5 M48.5 0.5 H54 M51.5 0.5 V8.2 Q51.4 9 49.5 8.6"/>
<path d="M57.5 0 V3.5 H65.5 V0 M57.5 1.5 H65.5 M55.5 6.5 H67.5 M61.5 0 V9.5"/>
</g>
<path d="M86 0 L95.3 5.2 L88 12.6 L79 7.2 Z" fill="#e8b02c" stroke="#a86e0c" stroke-width="0.9"/>
<path d="M85.5 0.5 L93.5 5 L90.5 8 L82.5 3.5 Z" fill="#f8dc6a"/>
<path d="M79.6 7.6 L88 12.4 L94.6 5.8" fill="none" stroke="#c8922a" stroke-width="1.2"/>
<rect x="109.5" y="0" width="10" height="5.5" fill="#2f8ff0"/>
<rect x="112" y="1" width="5" height="1" fill="#fff"/><rect x="112" y="3" width="5" height="1" fill="#cfe6ff"/>
<path d="M110 12.4 Q107.2 12.2 107.4 9.8 Q107.8 7.8 110.4 8 Q111 5.6 113.8 5.6 Q116.6 5.4 117.6 7.6 Q120 6.8 121.2 8.6 Q123 9 122.8 10.8 Q122.6 12.4 120.4 12.4 Z" fill="#f2f6fb" stroke="#7f9cc4" stroke-width="1"/>
<circle cx="142.6" cy="4.7" r="7.2" fill="#e4efe4" stroke="#b8c8dc" stroke-width="0.8"/>
<path d="M142.6 4.7 L146.8 -1.6 A7.5 7.5 0 0 1 142.6 12.2 Z" fill="#5cb85c" opacity="0.8"/>
<path d="M138 0 A6 6 0 0 0 139 9.6 M140.4 0.8 A3.6 3.6 0 0 0 140.6 7.6" fill="none" stroke="#3a6fd8" stroke-width="1"/>
<circle cx="142.6" cy="4.4" r="1.7" fill="#2b50c8"/>
<path d="M142.9 5 V12.4" stroke="#2f9e2f" stroke-width="1.3"/>
<path d="M162.6 3 L177.6 3 L177 6 L170 12.6 L166 10.4 Z" fill="#f7d84a" stroke="#c8a020" stroke-width="0.7"/>
<ellipse cx="170" cy="1.6" rx="7.8" ry="2.6" fill="#5aa8e0" stroke="#2f78b8" stroke-width="0.7"/>
<circle cx="174.4" cy="8.6" r="4" fill="#d62a1a"/>
<rect x="172.9" y="7.1" width="3" height="3" fill="#fff"/>
<g stroke="#000" stroke-width="1" fill="none">
<path d="M185.5 0 V8.5 H192.5 V0 M185.5 2.5 H192.5 M185.5 5.5 H192.5"/>
<path d="M195 1.5 H200 M197 1.5 L195.4 7 L200 6 M199 4 L200.4 7.6 M201.4 1.5 H205.4 Q205.6 7.5 204.6 8.6 L203.4 8.4 M203 0 Q203 6 200.8 9"/>
<path d="M207 0.5 H217.5 M209.6 2 L208 4.4 M214.8 2 L216.8 4.4 M214.6 4 Q212 8 207.4 9 M209.6 4 Q212 8 217.6 9"/>
<path d="M221 0 V2.5 H228 V0 M221 1.2 H228 M221.4 4.5 H229 Q229 8 227.4 8.8 M221.6 4 L220 6 M223.6 5 L221 8.6 M226 5 L223.4 8.8"/>
</g>
<path d="M256.5 0 V12.8 M254.0 10.5 H267.5 M265.8 9 L267.6 10.5 L265.8 12" fill="none" stroke="#4a4a4a" stroke-width="1.1"/>
<g shape-rendering="crispEdges" fill="#168c16"><rect x="262" y="0" width="1" height="9"/><rect x="260" y="7" width="2" height="1"/><rect x="263" y="1" width="2" height="1"/></g>
<path d="M284.5 0 V12.8 M282.0 10.5 H295.5 M293.8 9 L295.6 10.5 L293.8 12" fill="none" stroke="#4a4a4a" stroke-width="1.1"/>
<rect x="288.6" y="-1" width="4" height="7.4" fill="#36d836" stroke="#128a12" stroke-width="0.9"/><rect x="289.4" y="0" width="1.2" height="5.6" fill="#8af58a"/><path d="M290.6 6.6 V8.9" stroke="#128a12" stroke-width="1.1"/>
<path d="M312.5 0 V12.8 M310.0 10.5 H323.5 M321.8 9 L323.6 10.5 L321.8 12" fill="none" stroke="#4a4a4a" stroke-width="1.1"/>
<path d="M311.3 7.7 Q314.4 2.8 317 2.4 Q319.4 2.6 322.6 6.1" stroke="#2a9a2a" stroke-width="1.1" fill="none"/>
<path d="M351.8 6.2 L357.0 11.6" stroke="#c8a010" stroke-width="3" stroke-linecap="round"/>
<path d="M352.2 6.6 L356.6 11.2" stroke="#f4e070" stroke-width="1.1" stroke-linecap="round"/>
<circle cx="348.0" cy="2.6" r="5" fill="#d2ebf9" stroke="#3f8ad4" stroke-width="1.3"/>
<path d="M345.2 2.8 H350.8" stroke="#4a86c6" stroke-width="1.6"/>
<path d="M348.0 0 V5.6" stroke="#4a86c6" stroke-width="1.6"/>
<path d="M379.8 6.2 L385.0 11.6" stroke="#c8a010" stroke-width="3" stroke-linecap="round"/>
<path d="M380.2 6.6 L384.6 11.2" stroke="#f4e070" stroke-width="1.1" stroke-linecap="round"/>
<circle cx="376.0" cy="2.6" r="5" fill="#d2ebf9" stroke="#3f8ad4" stroke-width="1.3"/>
<path d="M373.2 2.8 H378.8" stroke="#4a86c6" stroke-width="1.6"/>
<rect x="398.5" y="0" width="7" height="4.5" fill="#6cc04a" stroke="#3f9a22" stroke-width="0.8"/>
<rect x="407" y="0" width="7" height="4.5" fill="#4a8ae8" stroke="#2a5fc4" stroke-width="0.8"/>
<rect x="398.5" y="6" width="7" height="6.5" fill="#3a70d8" stroke="#2450b0" stroke-width="0.8"/>
<rect x="407" y="6" width="7" height="6.5" fill="#5ab83a" stroke="#3a8a20" stroke-width="0.8"/>
<g fill="#f4faff"><rect x="399.6" y="0.6" width="4.8" height="2.8" rx="0.6"/><rect x="408.1" y="0.2" width="4.8" height="3" rx="0.6"/><rect x="399.6" y="8" width="4.8" height="3.2" rx="0.6"/><rect x="408.1" y="8" width="4.8" height="3.2" rx="0.6"/></g>
<path d="M400.6 2 H403.4 M409.4 1.6 H411.8 M400.8 9.6 H403.2 M409.2 9.6 H411.8" stroke="#7aa0d8" stroke-width="0.8"/>
<path d="M436.5 0 V12.8 M434.0 10.5 H447.5 M445.8 9 L447.6 10.5 L445.8 12" fill="none" stroke="#4a4a4a" stroke-width="1.1"/>
<path d="M441.5 1 L445.3 4.4 L441.5 7.8 Z" fill="#a8eca8" stroke="#16a416" stroke-width="1.25" stroke-linejoin="miter"/>
<path d="M464.5 0 V12.8 M462.0 10.5 H475.5 M473.8 9 L475.6 10.5 L473.8 12" fill="none" stroke="#4a4a4a" stroke-width="1.1"/>
<path d="M470.5 0 V8.5" stroke="#2a6ad0" stroke-width="1.1"/>
<path d="M475.8 4.6 H471.6 M473.6 2.8 L471.6 4.6 L473.6 6.4" stroke="#d04010" stroke-width="1.1" fill="none"/>
<path d="M495.8 0 V10 H504 V0" fill="#fdfdfd" stroke="#8a8a8a" stroke-width="1"/>
<path d="M498 0 V2.5 H503" fill="none" stroke="#9a9a9a" stroke-width="0.8"/>
<path d="M503 3.4 H507 V7.2 H510.6 V11 H507 V14.6 H503 V11 H499.4 V7.2 H503 Z" fill="#1fd01f" stroke="#0a8a0a" stroke-width="0.9"/>
<path d="M504 4.4 H506 V8.2 H509.6 V9 H500.4 V8.2 H504 Z" fill="#7dff7d" opacity="0.8"/>
<polygon points="516.8,4.2 522.4,4.2 519.6,7" fill="#000"/>
<polygon points="555.8,4.2 561.4,4.2 558.6,7" fill="#000"/>
<polygon points="594.6,4.2 600.2,4.2 597.4,7" fill="#000"/>
<polygon points="900.8,4.2 906.4,4.2 903.6,7" fill="#000"/>
<circle cx="541" cy="4" r="7.6" fill="#2f6fd6" stroke="#1c4fb0" stroke-width="0.8"/>
<circle cx="541" cy="3.6" r="5.4" fill="#eef3fa"/>
<path d="M541 0 V4.4 H544" stroke="#555" stroke-width="1" fill="none"/>
<rect x="572.5" y="0" width="15" height="11.4" fill="#f4f8ff" stroke="#3a7ad8" stroke-width="1.1"/>
<path d="M572.5 5.8 H587.5" stroke="#3a7ad8" stroke-width="1"/>
<path d="M574.5 3.6 L577.5 2.6 L580 3.2 L583 1.8 L586 2.2" stroke="#b02010" stroke-width="1.1" fill="none"/>
<path d="M574.5 9.4 L577.5 8.2 L580 9.2 L583 7.6 L586 8.8" stroke="#1a9a1a" stroke-width="1.1" fill="none"/>
<path d="M623.8 -1 V8.6 L626 6.8 L628.2 11.8 L630.2 10.9 L628.2 6.3 L632 6.1 L624.6 -1 Z" fill="#4a4a4a"/>
<path d="M656.5 0 V12.4 M649 5.5 H664" stroke="#4a4a4a" stroke-width="1" shape-rendering="crispEdges"/>
<rect x="655" y="4" width="3" height="3" fill="#f0f0f0"/>
<rect x="656" y="5" width="1" height="1" fill="#4a4a4a"/>
<rect x="690" y="0" width="1" height="12" fill="#4a4a4a" shape-rendering="crispEdges"/>
<rect x="713" y="5" width="12" height="1" fill="#4a4a4a" shape-rendering="crispEdges"/>
<path d="M741 11.8 L753.4 0" stroke="#4a4a4a" stroke-width="1.1"/>
<path d="M766.8 7.2 L777.4 -0.4 M769 11.4 L781.8 1.6 M768.6 5.4 L770.6 11 M770.8 3.6 L773 9.6 M773.2 1.8 L775.4 7.8 M775.6 0 L777.8 5.8 M778 -1 L780 3.8" stroke="#4a4a4a" stroke-width="1.15" fill="none"/>
<path d="M781.8 9.4 H778.2 V13.6 H781.8 M778.2 11.5 H781.2" stroke="#333" stroke-width="1" fill="none"/>
<path d="M796 1.5 H809 M796 5.5 H809 M796 9.5 H804" stroke="#4a4a4a" stroke-width="1" stroke-dasharray="1,1" fill="none" shape-rendering="crispEdges"/>
<path d="M809.4 9.4 H806 V13.8 M806 11.5 H808.8" stroke="#333" stroke-width="1" fill="none"/>
<path d="M827.4 9.9 L830.3 1.6 H831.1 L834 9.9 M828.6 7 H832.8" stroke="#4c4c4c" stroke-width="1.5" fill="none"/>
<rect x="853" y="1.5" width="11.5" height="10" fill="none" stroke="#666" stroke-width="1" stroke-dasharray="1,1" shape-rendering="crispEdges"/>
<path d="M855.4 3.3 H862.6 M859 3.3 V9.9" stroke="#4c4c4c" stroke-width="1.7" fill="none"/>
<path d="M880 2.2 L883.6 -1 L887.2 2.2 L883.6 4.4 Z" fill="#444"/>
<path d="M886.8 8.6 L890.4 6.4 L894.2 8.6 L890.4 12 Z" fill="#444"/>
<path d="M882.2 5.8 L885 8 L889.8 3" stroke="#444" stroke-width="1.2" fill="none"/>
</g>
<circle cx="1643.7" cy="2.2" r="3.9" fill="#f4f6fb" stroke="#2a55cc" stroke-width="1.3"/>
<path d="M1640.8 5.2 L1636 10.2" stroke="#2a55cc" stroke-width="2.2" stroke-linecap="round"/>
<path d="M1660.4 7.6 Q1660.2 2.6 1666 2.4 H1672 V11 H1665.4 L1663.2 13.8 L1663.4 11 Q1660.6 10.6 1660.4 7.6 Z" fill="#e4e6ee" stroke="#b4b6c0" stroke-width="0.9"/>
<circle cx="1674.6" cy="2.2" r="8.4" fill="#d93420"/>
<path d="M1672.6 -0.2 L1674.9 -2 V6.4 M1672.2 6.6 H1677.4" stroke="#fff" stroke-width="1.3" fill="none"/>
<text transform="translate(926.90,8.60) scale(0.9830,1)" font-size="10.4" fill="#3c3c3c" stroke="#3c3c3c" stroke-width="0.22">M1</text>
<text transform="translate(955.10,8.60) scale(0.9483,1)" font-size="10.4" fill="#3c3c3c" stroke="#3c3c3c" stroke-width="0.22">M5</text>
<text transform="translate(981.10,8.60) scale(0.9194,1)" font-size="10.4" fill="#3c3c3c" stroke="#3c3c3c" stroke-width="0.22">M15</text>
<text transform="translate(1009.00,8.60) scale(0.9343,1)" font-size="10.4" fill="#3c3c3c" stroke="#3c3c3c" stroke-width="0.22">M30</text>
<text transform="translate(1040.10,8.60) scale(0.9779,1)" font-size="10.4" fill="#3c3c3c" stroke="#3c3c3c" stroke-width="0.22">H1</text>
<text transform="translate(1067.00,8.60) scale(1.0080,1)" font-size="10.4" fill="#3c3c3c" stroke="#3c3c3c" stroke-width="0.22">H4</text>
<text transform="translate(1096.00,8.60) scale(0.9779,1)" font-size="10.4" fill="#3c3c3c" stroke="#3c3c3c" stroke-width="0.22">D1</text>
<text transform="translate(1123.40,8.60) scale(1.0000,1)" font-size="10.4" fill="#3c3c3c" stroke="#3c3c3c" stroke-width="0.22">W1</text>
<text transform="translate(1150.20,8.60) scale(0.9645,1)" font-size="10.4" fill="#3c3c3c" stroke="#3c3c3c" stroke-width="0.22">MN</text>
</svg>
</body></html>
